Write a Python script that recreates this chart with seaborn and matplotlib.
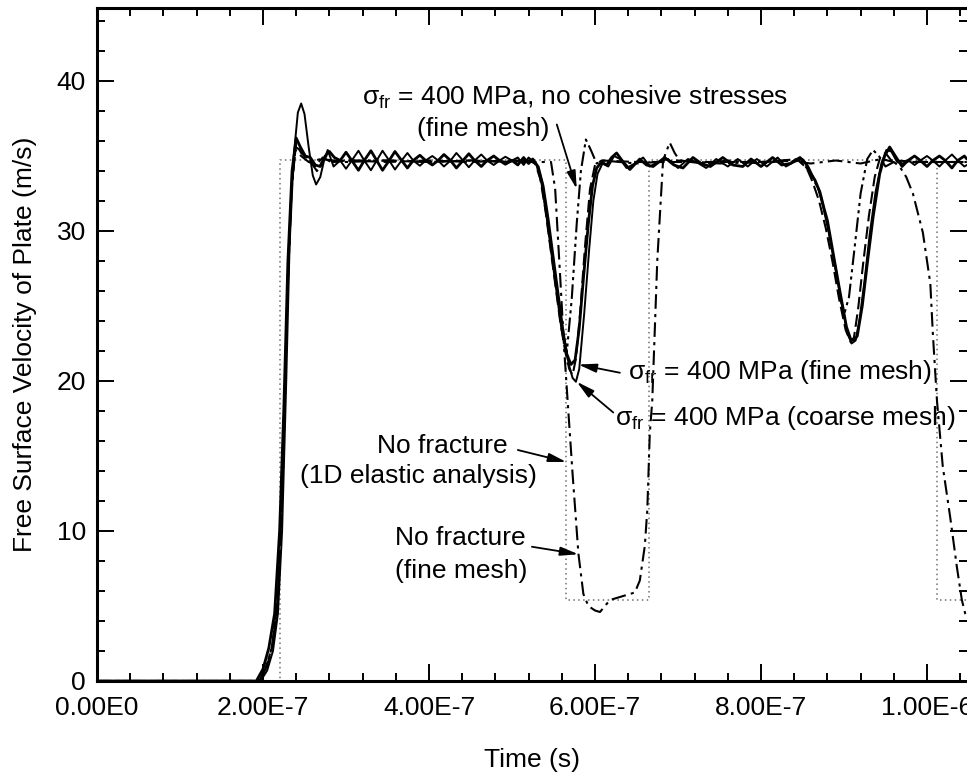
import matplotlib
matplotlib.use("Agg")
import matplotlib.pyplot as plt
import seaborn as sns
import pandas as pd
from matplotlib.ticker import MultipleLocator

# ---------------- data (time in units of 1e-7 s, velocity in m/s) ----------------
T_UNIT = 1e-7

fine_mesh = [(0.0, 0.0), (1.92, 0.0), (2.00, 0.8), (2.07, 2.2), (2.14, 4.5), (2.20, 10.0), (2.25, 18.0),
             (2.30, 28.0), (2.35, 34.0), (2.40, 36.2), (2.45, 35.6), (2.51, 35.0), (2.57, 34.9), (2.63, 34.4),
             (2.69, 34.3), (2.75, 35.0), (2.80, 35.3), (2.86, 34.9), (2.93, 34.7),
             (3.00, 35.25), (3.07, 34.7), (3.15, 34.05), (3.22, 34.7), (3.30, 35.35), (3.37, 34.7), (3.44, 34.05),
             (3.52, 34.7), (3.59, 35.3), (3.67, 34.7), (3.74, 34.2), (3.81, 34.7), (3.89, 35.05), (3.96, 34.7),
             (4.04, 34.4), (4.11, 34.7), (4.18, 35.1), (4.26, 34.7), (4.33, 34.2), (4.41, 34.7), (4.48, 35.15),
             (4.55, 34.7), (4.63, 34.3), (4.70, 34.7), (4.78, 35.0), (4.85, 34.7), (4.92, 34.45), (5.00, 34.7),
             (5.07, 34.4), (5.14, 34.9), (5.20, 34.5), (5.25, 34.8), (5.30, 34.4), (5.36, 33.2), (5.42, 31.0),
             (5.48, 28.5), (5.54, 26.0), (5.60, 23.5), (5.66, 21.8), (5.71, 21.1), (5.76, 21.4), (5.81, 23.5),
             (5.86, 26.8), (5.92, 30.5), (5.97, 33.0), (6.02, 34.2), (6.08, 34.6), (6.14, 34.4), (6.20, 34.9),
             (6.26, 35.2), (6.34, 34.6), (6.42, 34.1), (6.54, 34.8), (6.62, 34.4), (6.70, 34.3), (6.84, 34.9),
             (6.95, 34.4), (7.06, 34.2), (7.18, 34.9), (7.28, 34.5), (7.39, 34.3), (7.54, 34.9), (7.66, 34.4),
             (7.78, 34.3), (7.88, 34.8), (8.00, 34.3), (8.14, 34.9), (8.25, 34.4), (8.35, 34.5), (8.47, 34.9),
             (8.54, 34.5), (8.59, 33.9), (8.65, 33.4), (8.71, 32.6), (8.76, 31.5), (8.80, 30.7), (8.87, 28.5),
             (8.95, 26.0), (9.03, 23.6), (9.08, 22.8), (9.12, 22.7), (9.16, 23.0), (9.22, 25.0), (9.28, 27.8),
             (9.35, 30.9), (9.43, 33.8), (9.49, 35.0), (9.55, 35.6), (9.63, 34.9), (9.70, 34.3), (9.77, 34.7),
             (9.85, 35.0), (9.92, 34.7), (10.00, 34.3), (10.07, 34.7), (10.15, 35.0), (10.22, 34.7),
             (10.30, 34.2), (10.37, 34.7), (10.45, 35.0), (10.48, 34.8)]

coarse_mesh = [(0.0, 0.0), (1.97, 0.0), (2.05, 0.7), (2.12, 2.0), (2.18, 4.5), (2.23, 10.0), (2.28, 20.0),
               (2.32, 29.0), (2.37, 35.0), (2.42, 37.9), (2.46, 38.5), (2.50, 37.8), (2.55, 35.6), (2.60, 33.7),
               (2.64, 33.1), (2.69, 33.6), (2.74, 34.8), (2.78, 35.4), (2.85, 34.3), (2.93, 34.7),
               (3.00, 34.15), (3.07, 34.7), (3.15, 35.35), (3.22, 34.7), (3.30, 34.05), (3.37, 34.7),
               (3.44, 35.35), (3.52, 34.7), (3.59, 34.1), (3.67, 34.7), (3.74, 35.2), (3.81, 34.7),
               (3.89, 34.35), (3.96, 34.7), (4.04, 35.0), (4.11, 34.7), (4.18, 34.3), (4.26, 34.7),
               (4.33, 35.2), (4.41, 34.7), (4.48, 34.25), (4.55, 34.7), (4.63, 35.1), (4.70, 34.7),
               (4.78, 34.4), (4.85, 34.7), (4.92, 34.95), (5.00, 34.7),
               (5.07, 34.9), (5.14, 34.4), (5.20, 34.9), (5.26, 34.6), (5.32, 34.3), (5.38, 33.0), (5.44, 30.8),
               (5.50, 28.3), (5.56, 25.8), (5.62, 23.3), (5.68, 21.2), (5.73, 20.2), (5.77, 19.95), (5.81, 20.8),
               (5.87, 24.5), (5.93, 28.8), (5.98, 32.0), (6.03, 33.8), (6.09, 34.5), (6.16, 34.3), (6.23, 35.0),
               (6.30, 34.8), (6.38, 34.2), (6.48, 34.5), (6.58, 34.9), (6.66, 34.3), (6.76, 34.6), (6.88, 34.8),
               (7.00, 34.2), (7.12, 34.8), (7.22, 34.6), (7.34, 34.2), (7.46, 34.8), (7.60, 34.3), (7.72, 34.8),
               (7.84, 34.3), (7.95, 34.8), (8.07, 34.3), (8.20, 34.9), (8.30, 34.3), (8.40, 34.6), (8.50, 34.8),
               (8.57, 34.3), (8.63, 33.6), (8.69, 32.8), (8.75, 31.6), (8.82, 29.8), (8.89, 27.7), (8.97, 25.2),
               (9.04, 23.2), (9.09, 22.5), (9.14, 22.7), (9.19, 24.2), (9.25, 26.8), (9.31, 29.8), (9.38, 32.6),
               (9.45, 34.5), (9.51, 35.4), (9.57, 35.3), (9.64, 34.6), (9.71, 34.5), (9.78, 34.7), (9.85, 34.4),
               (9.92, 34.7), (10.00, 35.0), (10.07, 34.7), (10.15, 34.3), (10.22, 34.7), (10.30, 35.1),
               (10.37, 34.7), (10.45, 34.3), (10.48, 34.4)]

dashed_run = [(0.0, 0.0), (1.95, 0.0), (2.04, 0.8), (2.12, 2.5), (2.19, 6.5), (2.25, 16.0), (2.30, 27.0),
              (2.35, 33.5), (2.40, 35.8), (2.46, 35.2), (2.55, 34.8), (2.65, 34.0), (2.75, 35.0), (2.85, 34.6),
              (3.00, 34.7), (3.50, 34.6), (4.00, 34.7), (4.50, 34.6), (5.00, 34.7), (5.20, 34.7), (5.28, 34.5),
              (5.34, 33.5), (5.40, 31.5), (5.46, 29.0), (5.52, 26.5), (5.58, 24.0), (5.64, 22.0), (5.69, 20.8),
              (5.73, 20.4), (5.77, 21.5), (5.82, 24.5), (5.88, 29.0), (5.94, 32.8), (6.00, 34.4), (6.08, 34.7),
              (6.50, 34.6), (7.00, 34.6), (7.50, 34.6), (8.00, 34.6), (8.45, 34.7), (8.55, 34.2), (8.62, 33.3),
              (8.70, 32.0), (8.78, 30.2), (8.86, 28.0), (8.94, 25.5), (9.02, 23.4), (9.08, 22.6), (9.12, 22.9),
              (9.17, 24.8), (9.23, 27.8), (9.30, 31.0), (9.37, 33.6), (9.44, 35.0), (9.50, 35.2), (9.57, 34.7),
              (10.00, 34.6), (10.48, 34.6)]

no_cohesive = [(0.0, 0.0), (1.95, 0.0), (2.03, 0.8), (2.11, 2.3), (2.18, 5.5), (2.24, 14.0), (2.29, 25.0),
               (2.34, 32.5), (2.39, 35.6), (2.45, 35.4), (2.52, 34.8), (2.62, 34.3), (2.72, 34.9), (2.82, 34.6),
               (3.00, 34.7), (3.50, 34.7), (4.00, 34.6), (4.50, 34.7), (5.00, 34.6), (5.22, 34.7), (5.30, 34.4),
               (5.36, 33.2), (5.42, 31.0), (5.48, 28.5), (5.54, 26.0), (5.60, 23.6), (5.66, 21.9), (5.72, 25.5),
               (5.78, 30.5), (5.83, 34.0), (5.89, 36.1), (5.95, 35.4), (6.02, 34.5), (6.10, 34.7), (6.50, 34.5),
               (7.00, 34.7), (7.50, 34.5), (8.00, 34.6), (8.47, 34.8), (8.59, 33.9), (8.71, 32.6), (8.80, 30.5),
               (8.90, 27.5), (8.97, 25.2), (9.01, 24.6), (9.06, 25.6), (9.13, 29.0), (9.20, 32.5), (9.28, 34.8),
               (9.35, 35.4), (9.42, 35.0), (9.50, 34.3), (9.60, 34.6), (10.00, 34.6), (10.48, 34.6)]

no_fracture_fine = [(0.0, 0.0), (1.95, 0.0), (2.03, 0.8), (2.11, 2.3), (2.18, 5.5), (2.24, 14.0), (2.29, 25.0),
                    (2.34, 32.5), (2.39, 35.4), (2.46, 35.0), (2.55, 34.6), (2.70, 34.8), (3.00, 34.6),
                    (3.50, 34.7), (4.00, 34.6), (4.50, 34.7), (5.00, 34.6), (5.47, 34.6), (5.52, 32.8),
                    (5.58, 27.0), (5.63, 22.0), (5.67, 18.7), (5.73, 13.8), (5.80, 8.5), (5.86, 5.8), (5.92, 5.0),
                    (6.00, 4.7), (6.06, 4.6), (6.12, 5.0), (6.18, 5.4), (6.30, 5.6), (6.48, 5.9), (6.54, 6.7),
                    (6.60, 9.0), (6.63, 11.4), (6.66, 16.5), (6.69, 18.7), (6.75, 28.0), (6.82, 34.7),
                    (6.90, 35.9), (6.96, 35.2), (7.02, 34.7), (7.30, 34.5), (7.60, 34.7), (8.00, 34.5),
                    (8.30, 34.7), (8.60, 34.5), (8.90, 34.7), (9.20, 34.5), (9.45, 34.8), (9.60, 34.6),
                    (9.67, 34.3), (9.75, 33.6), (9.83, 32.5), (9.95, 29.9), (10.04, 26.5), (10.07, 23.2),
                    (10.12, 18.7), (10.19, 14.3), (10.28, 10.9), (10.36, 7.6), (10.42, 5.4), (10.46, 4.5),
                    (10.48, 4.3)]

elastic_1d = [(0.0, 0.0), (2.21, 0.0), (2.21, 34.7), (5.65, 34.7), (5.65, 5.4), (6.65, 5.4), (6.65, 34.7),
              (10.12, 34.7), (10.12, 5.4), (10.48, 5.4)]

x_ticks = [0.0, 2e-7, 4e-7, 6e-7, 8e-7, 1e-6]
x_tick_labels = ["0.00E0", "2.00E-7", "4.00E-7", "6.00E-7", "8.00E-7", "1.00E-6"]
y_ticks = [0, 10, 20, 30, 40]

# ---------------- style ----------------
sns.set_theme(style="ticks")
plt.rcParams["font.family"] = ["Liberation Sans", "DejaVu Sans"]
plt.rcParams["mathtext.fontset"] = "custom"
plt.rcParams["mathtext.rm"] = "Liberation Sans"
plt.rcParams["text.color"] = "black"
plt.rcParams["axes.labelcolor"] = "black"
plt.rcParams["xtick.color"] = "black"
plt.rcParams["ytick.color"] = "black"
FS = 19

fig = plt.figure(figsize=(9.67, 7.73), dpi=100)
ax = fig.add_axes([97 / 967, 92 / 773, 870 / 967, 673 / 773])

series = [
    ("1D elastic", elastic_1d, dict(color="#6f6f6f", lw=1.1, linestyle=(0, (1, 2.2)))),
    ("No fracture (fine)", no_fracture_fine, dict(color="black", lw=1.5, linestyle=(0, (7, 2.5, 1.5, 2.5)))),
    ("No cohesive", no_cohesive, dict(color="black", lw=1.5, linestyle=(0, (7, 2, 1.5, 2, 1.5, 2)))),
    ("dashed", dashed_run, dict(color="black", lw=1.5, linestyle=(0, (6, 2.5)))),
    ("coarse", coarse_mesh, dict(color="black", lw=1.4, linestyle="-")),
    ("fine", fine_mesh, dict(color="black", lw=2.0, linestyle="-")),
]

for name, pts, kw in series:
    df = pd.DataFrame(pts, columns=["t", "v"])
    df["t"] = df["t"] * T_UNIT
    sns.lineplot(data=df, x="t", y="v", ax=ax, sort=False, estimator=None, **kw)

ax.set_xlim(0, 870 / 830 * 1e-6)
ax.set_ylim(0, 673 / 15)
ax.set_xticks(x_ticks)
ax.set_xticklabels(x_tick_labels)
ax.set_yticks(y_ticks)
ax.xaxis.set_minor_locator(MultipleLocator(4e-8))
ax.yaxis.set_minor_locator(MultipleLocator(2))
ax.tick_params(which="both", direction="in", top=True, right=True, width=1.4, color="black",
               labelsize=FS, labelcolor="black")
ax.tick_params(which="major", length=12)
ax.tick_params(which="minor", length=6)
ax.tick_params(axis="x", pad=11)
ax.tick_params(axis="y", pad=8)
for s in ["left", "bottom", "top"]:
    ax.spines[s].set_linewidth(2.2)
    ax.spines[s].set_color("black")
ax.spines["right"].set_visible(False)

ax.set_xlabel("Time (s)", fontsize=FS, labelpad=20, color="black")
ax.set_ylabel("Free Surface Velocity of Plate (m/s)", fontsize=FS, labelpad=14, color="black")

sig = r"$\mathregular{\sigma_{fr}}$"
arrow = dict(arrowstyle="-|>,head_width=0.22,head_length=0.9", color="black", lw=1.3,
             shrinkA=0, shrinkB=0)

def E(t):
    return t * T_UNIT

ax.text(E(5.76), 38.9, sig + " = 400 MPa, no cohesive stresses", fontsize=FS, ha="center", va="center", color="black")
ax.text(E(4.65), 36.8, "(fine mesh)", fontsize=FS, ha="center", va="center", color="black")
ax.annotate("", xy=(E(5.78), 32.8), xytext=(E(5.54), 37.1), arrowprops=arrow)

ax.text(E(6.40), 20.6, sig + " = 400 MPa (fine mesh)", fontsize=FS, ha="left", va="center", color="black")
ax.annotate("", xy=(E(5.80), 21.1), xytext=(E(6.30), 20.55), arrowprops=arrow)

ax.text(E(6.24), 17.5, sig + " = 400 MPa (coarse mesh)", fontsize=FS, ha="left", va="center", color="black")
ax.annotate("", xy=(E(5.78), 19.95), xytext=(E(6.22), 17.9), arrowprops=arrow)

ax.text(E(4.95), 15.67, "No fracture", fontsize=FS, ha="right", va="center", color="black")
ax.text(E(5.30), 13.67, "(1D elastic analysis)", fontsize=FS, ha="right", va="center", color="black")
ax.annotate("", xy=(E(5.655), 14.6), xytext=(E(5.07), 15.4), arrowprops=arrow)

ax.text(E(5.16), 9.53, "No fracture", fontsize=FS, ha="right", va="center", color="black")
ax.text(E(5.19), 7.33, "(fine mesh)", fontsize=FS, ha="right", va="center", color="black")
ax.annotate("", xy=(E(5.80), 8.45), xytext=(E(5.24), 8.95), arrowprops=arrow)

fig.savefig("out.png", dpi=100)
